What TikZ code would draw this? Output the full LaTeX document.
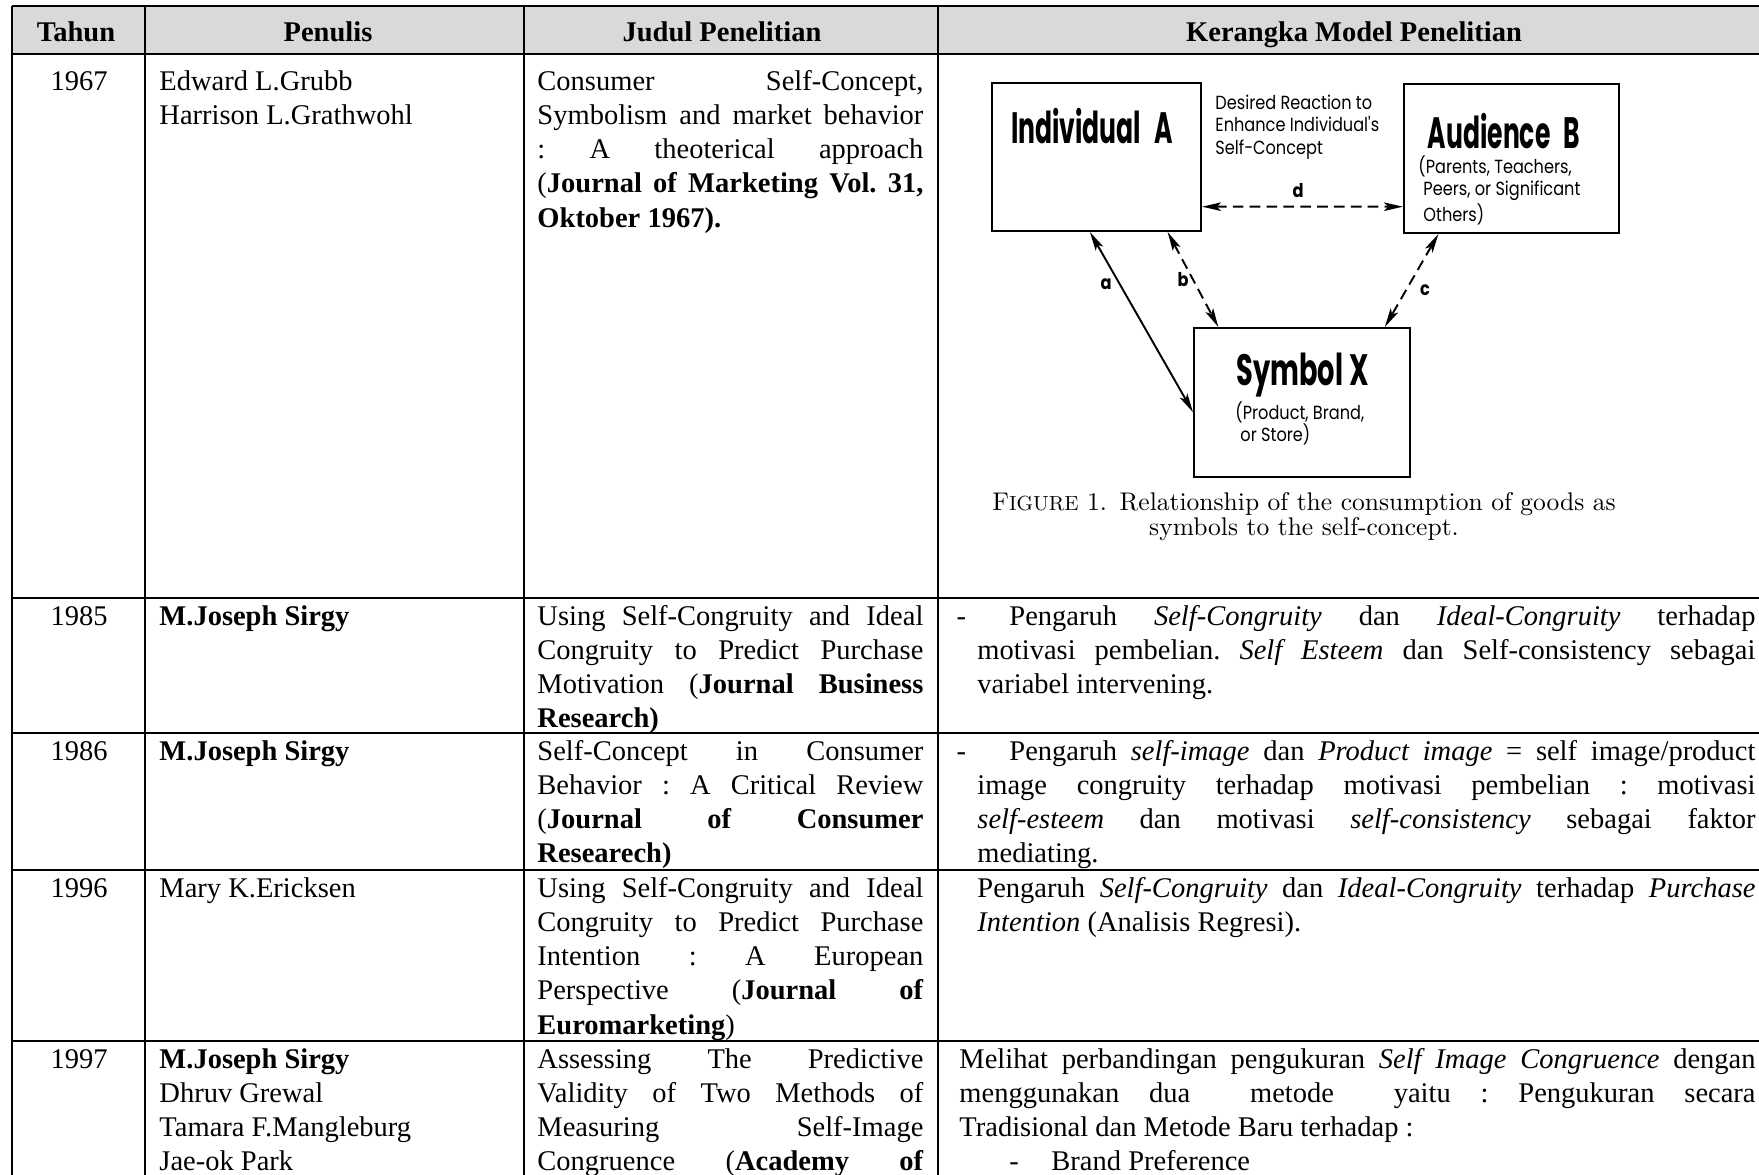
\documentclass[tikz,border=0pt]{standalone}
\usepackage{fontspec}
\usetikzlibrary{arrows.meta,calc}

% table text: Times metrics
\newfontfamily\tabfont{Liberation Serif}
% figure lettering: condensed geometric sans
\newfontfamily\figtitlefont[FakeStretch=0.62]{Poppins}
\newfontfamily\figtitlenarrow[FakeStretch=0.57]{Poppins}
\newfontfamily\figsmallfont[FakeStretch=0.85]{Poppins}

\definecolor{headgray}{RGB}{217,217,217}
\newlength{\pxl}\setlength{\pxl}{0.42105pt}

% one justified line of a cell
\newcommand\J[1]{\makebox[\linewidth][s]{#1}\par}
% first justified line of a dash item
\newcommand\Jdash[1]{\makebox[\linewidth][s]{\llap{-\hspace{11.5\pxl}}\hspace*{32\pxl}#1}\par}

\begin{document}
\begin{tikzpicture}[x=0.42105pt,y=-0.42105pt,
  grid/.style={line width=1.1pt},
  tabtext/.style={inner sep=0pt,font=\tabfont\fontsize{12}{14.44}\selectfont\frenchspacing},
  head/.style={tabtext,anchor=base,font=\tabfont\bfseries\fontsize{12}{14.44}\selectfont},
  year/.style={tabtext,anchor=base},
  cell/.style={tabtext,anchor=base west},
  figbox/.style={draw,line width=0.9pt,inner sep=0pt},
  figtitle/.style={anchor=base,inner sep=0pt,font=\figtitlefont\bfseries\fontsize{18.5}{20}\selectfont},
  figtitleN/.style={anchor=base,inner sep=0pt,font=\figtitlenarrow\bfseries\fontsize{18.5}{20}\selectfont},
  figsmall/.style={anchor=base west,inner sep=0pt,font=\figsmallfont\fontsize{8}{9.6}\selectfont},
  figletter/.style={anchor=center,inner sep=0pt,font=\figsmallfont\bfseries\fontsize{8}{9}\selectfont},
  figcap/.style={anchor=base,inner sep=0pt,font=\rmfamily\fontsize{10.75}{9.3}\selectfont},
  linkS/.style={line width=0.8pt,{Stealth[length=8pt,width=3.6pt,inset=1.8pt]}-{Stealth[length=8pt,width=3.6pt,inset=1.8pt]}},
  linkD/.style={linkS,dash pattern=on 4.5pt off 2.6pt}]

\useasboundingbox (0,0) rectangle (1759,1174);
\fill[white] (0,0) rectangle (1759,1174);

% ---------- table frame ----------
\fill[headgray] (12,6) rectangle (1766,54);
\foreach \yy in {6,54,598,733,870,1041}
  \draw[grid] (12,\yy) -- (1766,\yy);
\foreach \xx in {12,145,524,938}
  \draw[grid] (\xx,6) -- (\xx,1180);

% ---------- header ----------
\node[head] (hTahun)   at (76,41)   {Tahun};
\node[head] (hPenulis) at (328,41)  {Penulis};
\node[head] (hJudul)   at (722,41)  {Judul Penelitian};
\node[head] (hModel)   at (1354,41) {Kerangka Model Penelitian};

% ---------- 1967 ----------
\node[year] (y1967) at (79,90) {1967};
\node[cell] (a1967) at (159,90) {\parbox[t]{300pt}{Edward L.Grubb\\Harrison L.Grathwohl}};
\node[cell] (t1967) at (537,90) {\parbox[t]{162.5pt}{%
  \J{Consumer Self-Concept,}%
  \J{Symbolism and market behavior}%
  \J{: A theoterical approach}%
  \J{(\textbf{Journal of Marketing Vol. 31,}}%
  \textbf{Oktober 1967).}}};

% figure: individual, audience and symbol
\node[figbox,minimum width=88pt,minimum height=62.3pt] (A) at (1096.5,157) {};
\node[figbox,minimum width=90.5pt,minimum height=62.7pt] (B) at (1511.5,158.5) {};
\node[figbox,minimum width=90.9pt,minimum height=62.7pt] (X) at (1302,402.5) {};

\node[figtitleN] (Atitle) at (1092,143) {Individual\hspace{0.3em}A};
\node[figtitleN] (Btitle) at (1504,148) {Audience\hspace{0.3em}B};
\node[figtitle]  (Xtitle) at (1303,385) {Symbol\hspace{0.15em}X};

\node[figsmall] (dtext) at (1215,109) {\parbox[t]{90pt}{\raggedright Desired Reaction to\\Enhance Individual's\\Self-Concept}};
\node[figsmall] (Btext) at (1418,173) {\parbox[t]{100pt}{\raggedright (Parents, Teachers,\\\hspace*{5\pxl}Peers, or Significant\\\hspace*{5\pxl}Others)}};
\node[figsmall] (Xtext) at (1235,419) {\parbox[t]{80pt}{\raggedright (Product, Brand,\\\hspace*{5\pxl}or Store)}};

\draw[linkS] ($(A.south west)!0.469!(A.south east)$) -- ($(X.north west)!0.564!(X.south west)$);
\draw[linkD] ($(A.south west)!0.837!(A.south east)$) -- ($(X.north west)!0.116!(X.north east)$);
\draw[linkD] ($(B.south west)!0.163!(B.south east)$) -- ($(X.north west)!0.88!(X.north east)$);
\draw[linkD] ($(A.north east)!0.831!(A.south east)$) -- ($(B.north west)!0.819!(B.south west)$);

\node[figletter] (la) at (1106,284) {a};
\node[figletter] (lb) at (1183,280) {b};
\node[figletter] (lc) at (1425,290) {c};
\node[figletter] (ld) at (1298,191) {d};

\node[figcap] (cap) at (1304,510) {\parbox[t]{340pt}{\centering
  F{\fontsize{8.6}{9.3}\selectfont IGURE} 1.\enspace Relationship of the consumption of goods as\\
  symbols to the self-concept.}};

% ---------- 1985 ----------
\node[year] (y1985) at (79,625) {1985};
\node[cell] (a1985) at (159,625) {\textbf{M.Joseph Sirgy}};
\node[cell] (t1985) at (537,625) {\parbox[t]{162.5pt}{%
  \J{Using Self-Congruity and Ideal}%
  \J{Congruity to Predict Purchase}%
  \J{Motivation (\textbf{Journal Business}}%
  \textbf{Research)}}};
\node[cell] (m1985) at (977,625) {\parbox[t]{327.6pt}{%
  \Jdash{Pengaruh \emph{Self-Congruity} dan \emph{Ideal-Congruity} terhadap}%
  \J{motivasi pembelian. \emph{Self Esteem} dan Self-consistency sebagai}%
  variabel intervening.}};

% ---------- 1986 ----------
\node[year] (y1986) at (79,760) {1986};
\node[cell] (a1986) at (159,760) {\textbf{M.Joseph Sirgy}};
\node[cell] (t1986) at (537,760) {\parbox[t]{162.5pt}{%
  \J{Self-Concept in Consumer}%
  \J{Behavior : A Critical Review}%
  \J{(\textbf{Journal of Consumer}}%
  \textbf{Researech)}}};
\node[cell] (m1986) at (977,760) {\parbox[t]{327.6pt}{%
  \Jdash{Pengaruh \emph{self-image} dan \emph{Product image} = self image/product}%
  \J{image congruity terhadap motivasi pembelian : motivasi}%
  \J{\emph{self-esteem} dan motivasi \emph{self-consistency} sebagai faktor}%
  mediating.}};

% ---------- 1996 ----------
\node[year] (y1996) at (79,897) {1996};
\node[cell] (a1996) at (159,897) {Mary K.Ericksen};
\node[cell] (t1996) at (537,897) {\parbox[t]{162.5pt}{%
  \J{Using Self-Congruity and Ideal}%
  \J{Congruity to Predict Purchase}%
  \J{Intention : A European}%
  \J{Perspective (\textbf{Journal of}}%
  \textbf{Euromarketing})}};
\node[cell] (m1996) at (977,897) {\parbox[t]{327.6pt}{%
  \J{Pengaruh \emph{Self-Congruity} dan \emph{Ideal-Congruity} terhadap \emph{Purchase}}%
  \emph{Intention} (Analisis Regresi).}};

% ---------- 1997 ----------
\node[year] (y1997) at (79,1068) {1997};
\node[cell] (a1997) at (159,1068) {\parbox[t]{300pt}{\textbf{M.Joseph Sirgy}\\Dhruv Grewal\\Tamara F.Mangleburg\\Jae-ok Park}};
\node[cell] (t1997) at (537,1068) {\parbox[t]{162.5pt}{%
  \J{Assessing The Predictive}%
  \J{Validity of Two Methods of}%
  \J{Measuring Self-Image}%
  \J{Congruence (\textbf{Academy of}}}};
\node[cell] (m1997) at (959,1068) {\parbox[t]{335.2pt}{%
  \J{Melihat perbandingan pengukuran \emph{Self Image Congruence} dengan}%
  \J{menggunakan dua\ \ metode\ \ yaitu : Pengukuran secara}%
  Tradisional dan Metode Baru terhadap :\par
  \hspace*{50\pxl}-\hspace*{32.5\pxl}Brand Preference}};

\end{tikzpicture}
\end{document}
